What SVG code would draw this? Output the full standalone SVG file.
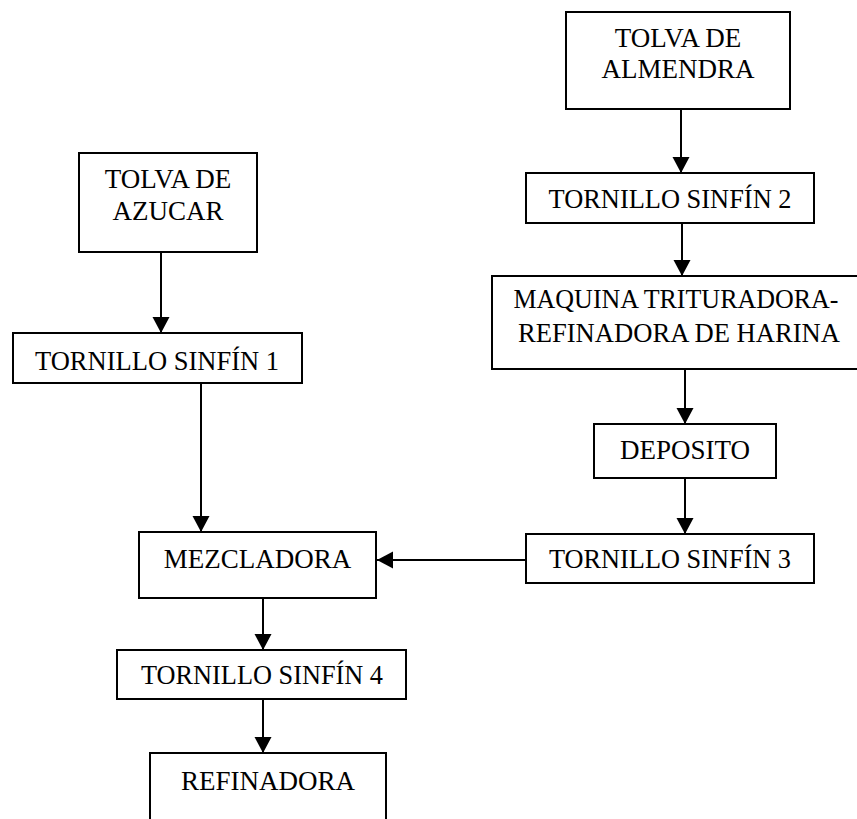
<svg xmlns="http://www.w3.org/2000/svg" width="857" height="819" viewBox="0 0 857 819">
<style>
.box{fill:#fff;stroke:#000;stroke-width:2}
.lbl{font-family:"Liberation Serif","Times New Roman",serif;font-size:27px;fill:#000;text-anchor:middle}
.con{stroke:#000;stroke-width:2;fill:none;marker-end:url(#ah)}
</style>
<defs>
<marker id="ah" markerUnits="userSpaceOnUse" markerWidth="18" markerHeight="18" refX="16" refY="8.5" orient="auto" viewBox="0 0 18 18">
<path d="M0,0 L16,8.5 L0,17 z" fill="#000"/>
</marker>
</defs>
<rect width="857" height="819" fill="#fff"/>
<g id="connectors">
<line class="con" x1="161" y1="252" x2="161" y2="333"/>
<line class="con" x1="201" y1="383" x2="201" y2="532"/>
<line class="con" x1="681" y1="109" x2="681" y2="173"/>
<line class="con" x1="682" y1="223" x2="682" y2="276"/>
<line class="con" x1="685" y1="369" x2="685" y2="424"/>
<line class="con" x1="685" y1="478" x2="685" y2="534"/>
<line class="con" x1="526" y1="560" x2="377" y2="560"/>
<line class="con" x1="263" y1="598" x2="263" y2="650"/>
<line class="con" x1="263" y1="699" x2="263" y2="753"/>
</g>
<g id="tolva-azucar">
<rect class="box" x="79" y="153" width="178" height="99"/>
<text class="lbl" x="168" y="188">TOLVA DE</text>
<text class="lbl" x="168" y="220">AZUCAR</text>
</g>
<g id="tornillo-1">
<rect class="box" x="13" y="333" width="289" height="50"/>
<text class="lbl" x="157" y="370" textLength="244" lengthAdjust="spacingAndGlyphs">TORNILLO SINFÍN 1</text>
</g>
<g id="tolva-almendra">
<rect class="box" x="566" y="12" width="224" height="97"/>
<text class="lbl" x="678" y="47">TOLVA DE</text>
<text class="lbl" x="678" y="78">ALMENDRA</text>
</g>
<g id="tornillo-2">
<rect class="box" x="526" y="173" width="288" height="50"/>
<text class="lbl" x="670" y="208" textLength="243" lengthAdjust="spacingAndGlyphs">TORNILLO SINFÍN 2</text>
</g>
<g id="maquina">
<rect class="box" x="492" y="276" width="370" height="93"/>
<text class="lbl" x="676" y="308" textLength="325" lengthAdjust="spacingAndGlyphs">MAQUINA TRITURADORA-</text>
<text class="lbl" x="679" y="342" textLength="322" lengthAdjust="spacingAndGlyphs">REFINADORA DE HARINA</text>
</g>
<g id="deposito">
<rect class="box" x="594" y="424" width="182" height="54"/>
<text class="lbl" x="685" y="459">DEPOSITO</text>
</g>
<g id="tornillo-3">
<rect class="box" x="526" y="534" width="288" height="49"/>
<text class="lbl" x="670" y="568" textLength="242" lengthAdjust="spacingAndGlyphs">TORNILLO SINFÍN 3</text>
</g>
<g id="mezcladora">
<rect class="box" x="139" y="532" width="237" height="66"/>
<text class="lbl" x="257.5" y="568">MEZCLADORA</text>
</g>
<g id="tornillo-4">
<rect class="box" x="117" y="650" width="289" height="49"/>
<text class="lbl" x="262" y="684" textLength="242" lengthAdjust="spacingAndGlyphs">TORNILLO SINFÍN 4</text>
</g>
<g id="refinadora">
<rect class="box" x="150" y="753" width="236" height="80"/>
<text class="lbl" x="268" y="790">REFINADORA</text>
</g>
</svg>
